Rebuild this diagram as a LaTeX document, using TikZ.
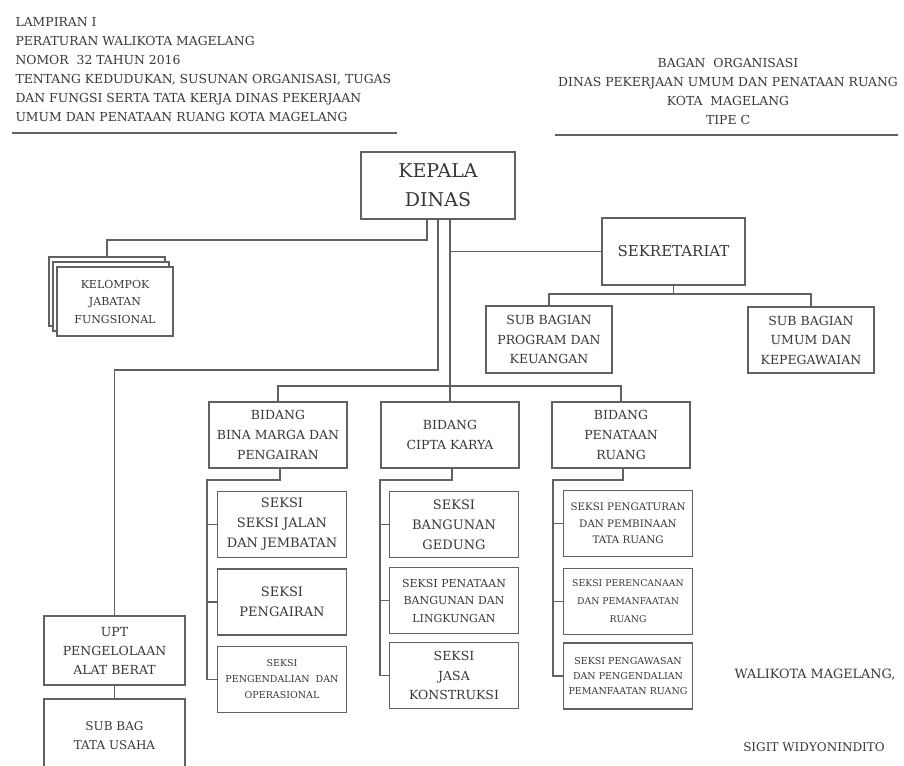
\documentclass[tikz,border=0pt]{standalone}
\usepackage{fontspec}
\setmainfont{DejaVu Serif}
\usetikzlibrary{positioning}
\colorlet{myline}{black!62}
\colorlet{mytext}{black!78}
\newcommand{\fs}[2]{\fontsize{#1}{#2}\selectfont}

\begin{document}
\begin{tikzpicture}[x=1pt,y=-1pt,
    box/.style={draw=myline,line width=1.1pt,align=center,text=mytext,inner sep=0pt,fill=white},
    bidbox/.style={box,minimum width=138pt,minimum height=66pt,font=\fs{12.5}{20}},
    seksibox/.style={box,minimum width=129pt,minimum height=66pt},
    wire/.style={draw=myline,line width=1.1pt}]
    \clip (0,0) rectangle (904,765);
    \fill[white] (0,0) rectangle (904,765);
    % header
    \node[anchor=west,align=left,text=mytext,font=\fs{12.4}{19}] (lhead) at (12,70)
    {LAMPIRAN I\\PERATURAN WALIKOTA MAGELANG\\NOMOR\ \ 32 TAHUN 2016\\TENTANG KEDUDUKAN, SUSUNAN ORGANISASI, TUGAS\\DAN FUNGSI SERTA TATA KERJA DINAS PEKERJAAN\\UMUM DAN PENATAAN RUANG KOTA MAGELANG};
    \node[align=center,text=mytext,font=\fs{12.4}{19}] (rhead) at (728,91.5)
    {BAGAN\ \ ORGANISASI\\DINAS PEKERJAAN UMUM DAN PENATAAN RUANG\\KOTA\ \ MAGELANG\\TIPE C};
    \draw[myline,line width=1.6pt] (12,133) -- (397,133);
    \draw[myline,line width=1.6pt] (555,135) -- (898,135);
    % kepala dan sekretariat
    \node[box,minimum width=154pt,minimum height=67pt,font=\fs{19}{29}] (kd) at (438,185.5) {KEPALA\\DINAS};
    \node[box,minimum width=143pt,minimum height=67pt,font=\fs{15}{18}] (sek) at (673.5,251.5) {SEKRETARIAT};
    \node[box,minimum width=126pt,minimum height=67pt,font=\fs{12.5}{19.5}] (sbp) at (549,339.5) {SUB BAGIAN\\PROGRAM DAN\\KEUANGAN};
    \node[box,minimum width=126pt,minimum height=66pt,font=\fs{12.5}{19.5}] (sbu) at (811,340) {SUB BAGIAN\\UMUM DAN\\KEPEGAWAIAN};
    % kelompok jabatan fungsional
    \node[box,minimum width=116pt,minimum height=69pt] (kjf2) at (107,291.5) {};
    \node[box,minimum width=116pt,minimum height=69pt] (kjf1) at (111,296.5) {};
    \node[box,minimum width=116pt,minimum height=69pt,font=\fs{11}{17.5}] (kjf) at (115,301.5) {KELOMPOK\\JABATAN\\FUNGSIONAL};
    % upt
    \node[box,minimum width=141pt,minimum height=69pt,font=\fs{12.5}{19}] (upt) at (114.5,650.5) {UPT\\PENGELOLAAN\\ALAT BERAT};
    \node[box,minimum width=141pt,minimum height=73pt,font=\fs{12}{19}] (sbtu) at (114.5,735.5) {SUB BAG\\TATA USAHA};
    % bidang
    \node[bidbox] (bbm) at (278,435) {BIDANG\\BINA MARGA DAN\\PENGAIRAN};
    \node[bidbox] (bck) at (450,435) {BIDANG\\CIPTA KARYA};
    \node[bidbox] (bpr) at (621,435) {BIDANG\\PENATAAN\\RUANG};
    % seksi
    \node[seksibox,font=\fs{13}{20}] (bbm1) at (282,524.5) {SEKSI\\SEKSI JALAN\\DAN JEMBATAN};
    \node[seksibox,font=\fs{13}{20}] (bbm2) at (282,602) {SEKSI\\PENGAIRAN};
    \node[seksibox,font=\fs{9.5}{16}] (bbm3) at (282,679.5) {SEKSI\\PENGENDALIAN\ \ DAN\\OPERASIONAL};
    \node[seksibox,font=\fs{13}{20}] (bck1) at (454,524.5) {SEKSI\\BANGUNAN\\GEDUNG};
    \node[seksibox,font=\fs{11}{17.5}] (bck2) at (454,600.5) {SEKSI PENATAAN\\BANGUNAN DAN\\LINGKUNGAN};
    \node[seksibox,font=\fs{12.5}{19.5}] (bck3) at (454,675.5) {SEKSI\\JASA\\KONSTRUKSI};
    \node[seksibox,font=\fs{10.3}{16.5}] (bpr1) at (628,523.5) {SEKSI PENGATURAN\\DAN PEMBINAAN\\TATA RUANG};
    \node[seksibox,font=\fs{9.3}{18}] (bpr2) at (628,601.5) {SEKSI PERENCANAAN\\DAN PEMANFAATAN\\RUANG};
    \node[seksibox,font=\fs{9.5}{15}] (bpr3) at (628,676) {SEKSI PENGAWASAN\\DAN PENGENDALIAN\\PEMANFAATAN RUANG};
    % tanda tangan
    \node[text=mytext,font=\fs{12.8}{16}] (wali) at (815,675) {WALIKOTA MAGELANG,};
    \node[text=mytext,font=\fs{12}{16}] (sigit) at (814,747) {SIGIT WIDYONINDITO};
    % garis
    \coordinate (jf) at (427,240);
    \coordinate (up) at (438,370);
    \coordinate (bus) at (450,386);
    \coordinate (sbus) at (673.5,294);
    \draw[wire] (kd.south -| jf) -- (jf) -| (kjf2.north);
    \draw[wire] (kd.south -| up) -- (up) -| (upt.north);
    \draw[wire] (upt.south) -- (sbtu.north);
    \draw[wire] (kd.south -| bus) -- (bck.north);
    \draw[wire] (sek.west) -- (sek.west -| bus);
    \draw[wire] (bbm.north) -- (bbm.north |- bus) -- (bpr.north |- bus) -- (bpr.north);
    \draw[wire] (sek.south) -- (sbus);
    \draw[wire] (sbp.north) |- (sbus) -| (sbu.north);
    \foreach \b/\sx in {bbm/207,bck/380,bpr/553}
    {\coordinate (sp\b) at (\sx,480);
    \draw[wire] ([xshift=2pt]\b.south) |- (sp\b) |- (\b3.west);
    \draw[wire] (\b1.west) -- (\b1.west -| sp\b);
    \draw[wire] (\b2.west) -- (\b2.west -| sp\b);}
\end{tikzpicture}
\end{document}
